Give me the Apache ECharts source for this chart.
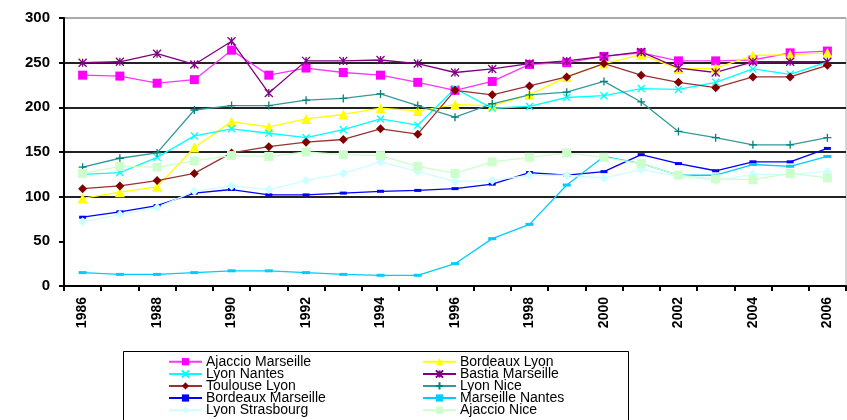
<!DOCTYPE html>
<html><head><meta charset="utf-8">
<script src="https://cdn.jsdelivr.net/npm/echarts@6/dist/echarts.min.js"></script>
<style>html,body{margin:0;padding:0;background:#fff}#c{width:847px;height:420px}</style>
</head><body><div id="c"></div>
<script>
const years = ['1986','1987','1988','1989','1990','1991','1992','1993','1994','1995','1996','1997','1998','1999','2000','2001','2002','2003','2004','2005','2006'];
const ajaccioMarseille = [236, 235, 227, 231, 264, 236, 244, 239, 236, 228, 219, 229, 248, 250, 257, 261, 252, 252, 253, 261, 263];
const bordeauxLyon = [98, 105, 111, 155, 184, 178, 187, 192, 199, 196, 203, 202, 214, 234, 249, 259, 243, 244, 258, 259, 261];
const lyonNantes = [125, 127, 144, 168, 176, 171, 166, 175, 187, 180, 221, 199, 201, 211, 213, 221, 220, 228, 243, 237, 251];
const bastiaMarseille = [250, 251, 260, 248, 274, 216, 252, 252, 253, 249, 239, 243, 249, 252, 257, 262, 244, 239, 251, 251, 251];
const toulouseLyon = [109, 112, 118, 126, 149, 156, 161, 164, 176, 170, 219, 214, 224, 234, 249, 236, 228, 222, 234, 234, 247];
const lyonNice = [133, 143, 149, 197, 202, 202, 208, 210, 215, 202, 189, 204, 214, 217, 229, 206, 173, 166, 158, 158, 166];
const bordeauxMarseille = [77, 83, 90, 104, 108, 102, 102, 104, 106, 107, 109, 114, 127, 124, 128, 147, 137, 129, 139, 139, 154];
const marseilleNantes = [15, 13, 13, 15, 17, 17, 15, 13, 12, 12, 25, 53, 69, 113, 145, 137, 124, 124, 136, 134, 145];
const lyonStrasbourg = [72, 80, 88, 106, 112, 108, 118, 126, 139, 128, 117, 118, 124, 124, 121, 130, 123, 118, 125, 125, 128];
const ajaccioNice = [126, 134, 133, 140, 146, 145, 150, 147, 146, 134, 126, 139, 144, 149, 144, 137, 124, 120, 119, 126, 121];

const X = 'path://M0,0L10,10M10,0L0,10';
const STAR = 'path://M0,0L10,10M10,0L0,10M5,0L5,10';
const PLUS = 'path://M5,0L5,10M0,5L10,5';

function s(name, data, line, mark, symbol, size, stroke) {
  return {
    name, type: 'line', data, symbol, symbolSize: size, showSymbol: true,
    lineStyle: { color: line, width: 1.3 },
    itemStyle: stroke ? { color: mark, borderColor: mark, borderWidth: 1.3 } : { color: mark, borderWidth: 0 },
    emphasis: { disabled: true }, animation: false
  };
}

const series = [
  s('Ajaccio Marseille', ajaccioMarseille, '#FF33FF', '#FF00FF', 'rect', 9),
  s('Bordeaux Lyon', bordeauxLyon, '#FFFF00', '#FFFF00', 'triangle', 10),
  s('Lyon Nantes', lyonNantes, '#00FFFF', '#00FFFF', X, 7, true),
  s('Bastia Marseille', bastiaMarseille, '#800080', '#800080', STAR, 8, true),
  s('Toulouse Lyon', toulouseLyon, '#993333', '#800000', 'diamond', 9),
  s('Lyon Nice', lyonNice, '#339999', '#008080', PLUS, 8, true),
  s('Bordeaux Marseille', bordeauxMarseille, '#0000FF', '#0000FF', 'rect', [7, 3]),
  s('Marseille Nantes', marseilleNantes, '#00CCFF', '#00CCFF', 'rect', [8, 3]),
  s('Lyon Strasbourg', lyonStrasbourg, '#CCFFFF', '#CCFFFF', 'diamond', 9),
  s('Ajaccio Nice', ajaccioNice, '#CCFFCC', '#CCFFCC', 'rect', 9)
];

const col1 = ['Ajaccio Marseille', 'Lyon Nantes', 'Toulouse Lyon', 'Bordeaux Marseille', 'Lyon Strasbourg'];
const col2 = ['Bordeaux Lyon', 'Bastia Marseille', 'Lyon Nice', 'Marseille Nantes', 'Ajaccio Nice'];

const rowCenters = [361.7, 374, 385.9, 398, 410.2];
const legends = [];
[[col1, 168], [col2, 422]].forEach(([names, left]) => {
  names.forEach((n, i) => {
    legends.push({
      data: [n], left: left, top: rowCenters[i] - 7, orient: 'horizontal',
      itemWidth: 33, itemHeight: 9, itemGap: 0, padding: 0, selectedMode: false,
      textStyle: { fontFamily: 'Liberation Sans', fontSize: 14, color: '#000', lineHeight: 14, padding: [0, 0, 0, -1] }
    });
  });
});

const chart = echarts.init(document.getElementById('c'), null, { renderer: 'canvas' });
chart.setOption({
  backgroundColor: '#fff',
  animation: false,
  grid: { left: 64, right: 1, top: 18, bottom: 134, show: true, borderColor: '#aaa', borderWidth: 1 },
  xAxis: {
    type: 'category', data: years, boundaryGap: true,
    axisLine: { lineStyle: { color: '#000', width: 2 } },
    axisTick: { show: true, interval: 0, length: 5, lineStyle: { color: '#000', width: 2 } },
    axisLabel: { interval: 1, rotate: 90, margin: 11, color: '#000', fontFamily: 'Liberation Sans', fontWeight: 'bold', fontSize: 14 },
    splitLine: { show: false }
  },
  yAxis: {
    type: 'value', min: 0, max: 300, interval: 50,
    axisLine: { show: true, lineStyle: { color: '#000', width: 2 } },
    axisTick: { show: true, length: 5, lineStyle: { color: '#000', width: 2 } },
    axisLabel: { margin: 14, color: '#000', fontFamily: 'Liberation Sans', fontWeight: 'bold', fontSize: 15 },
    splitLine: { show: true, lineStyle: { width: 2, color: ['rgba(0,0,0,0)', 'rgba(0,0,0,0)', '#222', '#222', '#222', '#222', '#aaa'] } }
  },
  legend: legends,
  graphic: [{
    type: 'rect', shape: { x: 123.5, y: 351.5, width: 505, height: 80 },
    style: { fill: 'none', stroke: '#000', lineWidth: 1 }, z: 0
  }],
  series
});
</script></body></html>
